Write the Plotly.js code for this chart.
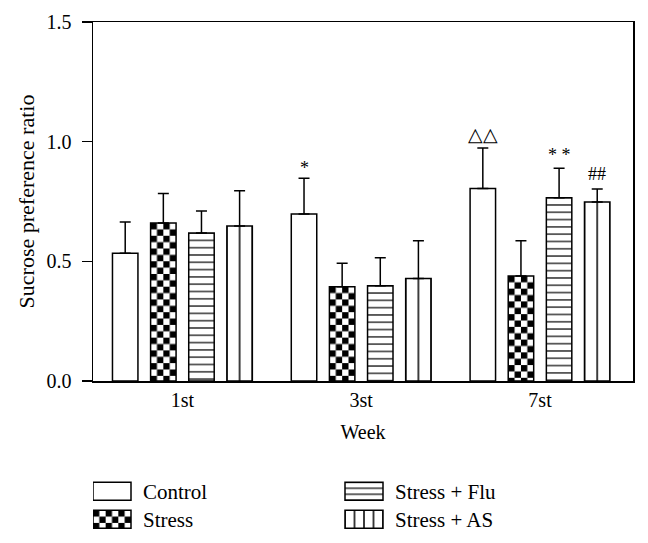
<!DOCTYPE html>
<html>
<head>
<meta charset="utf-8">
<script src="https://cdn.plot.ly/plotly-3.0.1.min.js"></script>
<style>
  html, body { margin: 0; padding: 0; background: #fff; }
  #plot { width: 648px; height: 543px; }
</style>
</head>
<body>
<svg id="customdefs" width="0" height="0" style="position:absolute">
  <defs></defs>
</svg>
<div id="plot"></div>
<script>
// ---- data ----
const weeks = ['1st', '3st', '7st'];
const seriesNames = ['Control', 'Stress', 'Stress + Flu', 'Stress + AS'];
const control = [0.534, 0.698, 0.804];
const controlErr = [0.130, 0.149, 0.170];
const stress = [0.660, 0.394, 0.439];
const stressErr = [0.123, 0.098, 0.147];
const flu = [0.618, 0.398, 0.766];
const fluErr = [0.092, 0.117, 0.123];
const asv = [0.648, 0.428, 0.748];
const asErr = [0.147, 0.158, 0.054];
// significance marks: [series index, week index, text]
const marks = [
  [0, 1, '*'],
  [0, 2, '\u25B3\u25B3'],
  [2, 2, '* *'],
  [3, 2, '##']
];

const FONT = 'Liberation Serif, Times New Roman, serif';
const FS = 20;
const values = [control, stress, flu, asv];
const errors = [controlErr, stressErr, fluErr, asErr];
const ranks = [1, 3, 2, 4];

const bargap = 0.147, bargroupgap = 0.332;
const traces = seriesNames.map((name, i) => ({
  type: 'bar',
  name: name,
  x: weeks,
  y: values[i],
  legendrank: ranks[i],
  marker: { color: '#ffffff', line: { color: '#000000', width: 1.5 } },
  error_y: {
    type: 'data', symmetric: false, array: errors[i],
    arrayminus: values[i].map(() => 0),
    color: '#000000', thickness: 1.5, width: 5.5
  },
  hoverinfo: 'skip'
}));

// annotation x offsets derived from bar layout parameters
const slot = (1 - bargap) / 4;
const annotations = marks.map(([s, w, t]) => ({
  x: w + (s - 1.5) * slot,
  y: values[s][w] + errors[s][w],
  xref: 'x', yref: 'y',
  text: t,
  showarrow: false,
  yanchor: 'bottom',
  yshift: t === '*' ? -2 : (t === '##' ? 3 : 1),
  font: { family: FONT, size: t.indexOf('\u25B3') >= 0 ? 19 : 18, color: '#000' }
}));

const layout = {
  width: 648, height: 543,
  margin: { l: 93, r: 15, t: 22, b: 162, autoexpand: false },
  paper_bgcolor: '#ffffff', plot_bgcolor: '#ffffff',
  font: { family: FONT, size: FS, color: '#000' },
  barmode: 'group',
  bargap: bargap,
  bargroupgap: bargroupgap,
  showlegend: true,
  xaxis: {
    type: 'category',
    range: [-0.5, 2.52],
    showline: true, mirror: true, linecolor: '#000', linewidth: 1.5,
    ticks: '', showgrid: false, zeroline: false,
    tickfont: { family: FONT, size: FS },
    ticklabelstandoff: 0,
    title: { text: 'Week', font: { family: FONT, size: FS }, standoff: 15 },
    automargin: false
  },
  yaxis: {
    range: [0, 1.5], dtick: 0.5, tick0: 0, tickformat: '.1f',
    showline: true, mirror: true, linecolor: '#000', linewidth: 1.5,
    ticks: 'outside', ticklen: 10, tickwidth: 1.5, tickcolor: '#000',
    showgrid: false, zeroline: false,
    tickfont: { family: FONT, size: FS },
    ticklabelstandoff: 6,
    title: { text: 'Sucrose preference ratio', font: { family: FONT, size: 22 }, standoff: 6 },
    automargin: false
  },
  legend: {
    orientation: 'h',
    x: 0, xanchor: 'left',
    y: -0.251, yanchor: 'top',
    entrywidth: 197, entrywidthmode: 'pixels',
    itemwidth: 40,
    font: { family: FONT, size: 21 },
    bgcolor: 'rgba(0,0,0,0)',
    traceorder: 'normal'
  },
  annotations: annotations
};

const NS = 'http://www.w3.org/2000/svg';
const defs = document.querySelector('#customdefs defs');
let pid = 0;
function makePattern(kind, bb, unit) {
  const id = 'cp' + (pid++);
  const p = document.createElementNS(NS, 'pattern');
  p.setAttribute('id', id);
  p.setAttribute('patternUnits', 'userSpaceOnUse');
  p.setAttribute('x', bb.x);
  p.setAttribute('y', bb.y);
  let w, h;
  if (kind === 'checker') { w = 2 * unit; h = 2 * unit; }
  else if (kind === 'h') { w = 10; h = unit; }
  else { w = unit; h = 10; }
  p.setAttribute('width', w);
  p.setAttribute('height', h);
  const bg = document.createElementNS(NS, 'rect');
  bg.setAttribute('x', 0); bg.setAttribute('y', 0);
  bg.setAttribute('width', w); bg.setAttribute('height', h);
  bg.setAttribute('fill', '#fff');
  p.appendChild(bg);
  const add = (x, y, ww, hh) => {
    const r = document.createElementNS(NS, 'rect');
    r.setAttribute('x', x); r.setAttribute('y', y);
    r.setAttribute('width', ww); r.setAttribute('height', hh);
    r.setAttribute('fill', '#000');
    p.appendChild(r);
  };
  if (kind === 'checker') { add(0, 0, unit, unit); add(unit, unit, unit, unit); }
  else if (kind === 'h') { add(0, -0.6, w, 1.2); add(0, h - 0.6, w, 1.2); }
  else { add(-0.75, 0, 1.5, h); add(w - 0.75, 0, 1.5, h); }
  defs.appendChild(p);
  return 'url(#' + id + ')';
}

let done = false;
function customize(gd) {
  // bar fills
  const barTraces = gd.querySelectorAll('.barlayer .trace');
  barTraces.forEach((tr, i) => {
    tr.querySelectorAll('path').forEach(path => {
      if (path.closest('.errorbar')) return;
      const bb = path.getBBox();
      if (!bb.width) return;
      let fill = null;
      if (i === 1) fill = makePattern('checker', bb, bb.width / 4);
      else if (i === 2) fill = makePattern('h', bb, 7.3);
      else if (i === 3) fill = makePattern('v', bb, bb.width / 2);
      if (fill) path.style.setProperty('fill', fill, 'important');
    });
  });
  // legend symbols
  const items = gd.querySelectorAll('.legend .traces');
  let firstY = null;
  items.forEach(g => {
    const t = g.querySelector('.legendtext');
    const name = t ? t.textContent : '';
    g.querySelectorAll('.legendpoints path').forEach(p => {
      p.setAttribute('d', 'M13,9H-25V-9H13Z');
      p.style.setProperty('stroke-width', '1.5px', 'important');
      p.style.setProperty('stroke', '#000', 'important');
      const bb = { x: -25, y: -9 };
      let fill = '#fff';
      if (name === 'Stress') fill = makePattern('checker', bb, 6.33);
      else if (name === 'Stress + Flu') fill = makePattern('h', bb, 6);
      else if (name === 'Stress + AS') fill = makePattern('v', bb, 9.5);
      p.style.setProperty('fill', fill, 'important');
    });
    // tighten row spacing to match reference
    const tr = g.getAttribute('transform') || '';
    const m = tr.match(/translate\(\s*([-\d.]+)[ ,]+([-\d.]+)\s*\)/);
    if (m) {
      const x = parseFloat(m[1]), y = parseFloat(m[2]);
      if (firstY === null) firstY = y;
      if (y > firstY + 1) g.setAttribute('transform', 'translate(' + x + ',' + (firstY + 28) + ')');
    }
  });
}

Plotly.newPlot('plot', traces, layout, { staticPlot: true }).then(gd => {
  customize(gd);
});
</script>
</body>
</html>
